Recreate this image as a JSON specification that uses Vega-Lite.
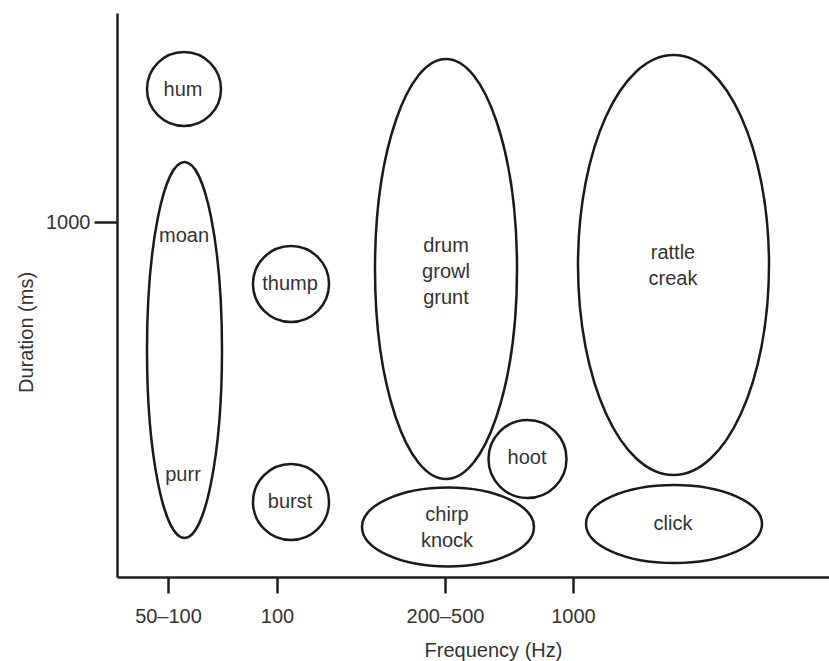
{
  "$schema": "https://vega.github.io/schema/vega-lite/v6.json",
  "autosize": "none",
  "width": 712,
  "height": 564,
  "padding": {"left": 117, "top": 13, "right": 0, "bottom": 84},
  "background": "white",
  "config": {
    "view": {"stroke": null},
    "font": "Liberation Sans",
    "axis": {
      "grid": false,
      "domainColor": "#1e1e1e",
      "domainWidth": 2.5,
      "tickColor": "#1e1e1e",
      "tickWidth": 2.5,
      "labelFont": "Liberation Sans",
      "labelFontSize": 20,
      "labelColor": "#333333",
      "titleFont": "Liberation Sans",
      "titleFontSize": 20,
      "titleFontWeight": "normal",
      "titleColor": "#333333",
      "labelOverlap": false,
      "labelFlush": false
    }
  },
  "datasets": {
    "groups": [
      {"sound": "hum", "frequency": 67, "duration": 488},
      {"sound": "moan/purr", "frequency": 67.5, "duration": 227},
      {"sound": "thump", "frequency": 174, "duration": 293},
      {"sound": "burst", "frequency": 174, "duration": 75},
      {"sound": "drum/growl/grunt", "frequency": 329, "duration": 308},
      {"sound": "hoot", "frequency": 410.5, "duration": 118},
      {"sound": "chirp/knock", "frequency": 331, "duration": 50},
      {"sound": "rattle/creak", "frequency": 556.5, "duration": 312},
      {"sound": "click", "frequency": 557, "duration": 53}
    ],
    "labels": [
      {"label": "hum", "frequency": 66, "duration": 487},
      {"label": "moan", "frequency": 67, "duration": 341},
      {"label": "purr", "frequency": 66, "duration": 102},
      {"label": "thump", "frequency": 173, "duration": 293},
      {"label": "burst", "frequency": 173, "duration": 75},
      {"label": "drum\ngrowl\ngrunt", "frequency": 329, "duration": 331},
      {"label": "hoot", "frequency": 410, "duration": 119},
      {"label": "chirp\nknock", "frequency": 330, "duration": 62},
      {"label": "rattle\ncreak", "frequency": 556, "duration": 324},
      {"label": "click", "frequency": 556, "duration": 53}
    ]
  },
  "layer": [
    {
      "data": {"name": "groups"},
      "mark": {"type": "point", "filled": false, "color": "#1a1a1a", "strokeWidth": 2.5, "size": 4, "opacity": 1},
      "encoding": {
        "x": {
          "field": "frequency", "type": "quantitative",
          "scale": {"domain": [0, 712], "nice": false, "zero": false},
          "axis": {
            "title": "Frequency (Hz)",
            "values": [51, 160, 328, 456],
            "labelExpr": "datum.value == 51 ? '50–100' : datum.value == 160 ? '100' : datum.value == 328 ? '200–500' : '1000'",
            "tickSize": 16,
            "labelPadding": 13,
            "titleX": 376,
            "titleY": 73,
            "titleBaseline": "middle",
            "titleAnchor": "middle",
            "titleAlign": "center"
          }
        },
        "y": {
          "field": "duration", "type": "quantitative",
          "scale": {"domain": [0, 564], "nice": false, "zero": false},
          "axis": {
            "title": "Duration (ms)",
            "values": [355],
            "labelExpr": "'1000'",
            "tickSize": 23,
            "labelPadding": 4,
            "titleX": -91,
            "titleY": 319,
            "titleBaseline": "middle",
            "titleAlign": "center",
            "titleAngle": -90
          }
        },
        "shape": {
          "field": "sound", "type": "nominal", "legend": null,
          "scale": {
            "domain": ["hum", "moan/purr", "thump", "burst", "drum/growl/grunt", "hoot", "chirp/knock", "rattle/creak", "click"],
            "range": [
              "M -37 0 A 37 37 0 1 0 37 0 A 37 37 0 1 0 -37 0 Z",
              "M -37.5 0 A 37.5 188 0 1 0 37.5 0 A 37.5 188 0 1 0 -37.5 0 Z",
              "M -38 0 A 38 38 0 1 0 38 0 A 38 38 0 1 0 -38 0 Z",
              "M -38 0 A 38 38 0 1 0 38 0 A 38 38 0 1 0 -38 0 Z",
              "M -71 0 A 71 210 0 1 0 71 0 A 71 210 0 1 0 -71 0 Z",
              "M -39 0 A 39 39 0 1 0 39 0 A 39 39 0 1 0 -39 0 Z",
              "M -86 0 A 86 39.5 0 1 0 86 0 A 86 39.5 0 1 0 -86 0 Z",
              "M -95.5 0 A 95.5 210 0 1 0 95.5 0 A 95.5 210 0 1 0 -95.5 0 Z",
              "M -88 0 A 88 39 0 1 0 88 0 A 88 39 0 1 0 -88 0 Z"
            ]
          }
        }
      }
    },
    {
      "data": {"name": "labels"},
      "mark": {"type": "text", "font": "Liberation Sans", "fontSize": 20, "color": "#333333", "align": "center", "baseline": "middle", "lineBreak": "\n", "lineHeight": 26},
      "encoding": {
        "x": {"field": "frequency", "type": "quantitative"},
        "y": {"field": "duration", "type": "quantitative"},
        "text": {"field": "label", "type": "nominal"}
      }
    }
  ]
}
